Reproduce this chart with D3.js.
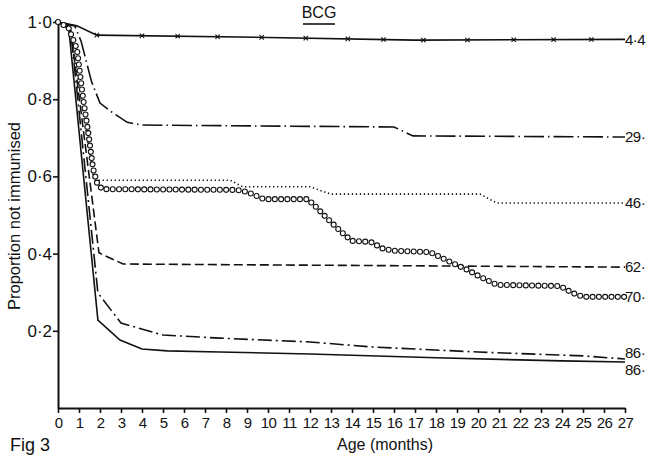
<!DOCTYPE html>
<html>
<head>
<meta charset="utf-8">
<script src="https://cdn.jsdelivr.net/npm/d3@7"></script>
<style>
  body { margin: 0; background: #fff; }
  svg text { font-family: "Liberation Sans", Arial, sans-serif; fill: #111; }
</style>
</head>
<body>
<div id="chart"></div>
<script>
// chart size
var svgWidth = 648;
var svgHeight = 457;

// months on the x axis
var months = d3.range(0, 28);
var yTicks = [0.2, 0.4, 0.6, 0.8, 1.0];

// each curve: [month, proportion not immunised]
var bcgCurve = [[0, 1], [0.9, 0.99], [1.85, 0.966], [10, 0.96], [17, 0.953], [27, 0.955]];
var bcgMarks = [1.85, 4, 5.7, 7.6, 9.7, 11.8, 13.8, 15.5, 17.4, 19.5, 21.7, 23.6, 25.4];
var curve29 = [[0, 1], [0.8, 0.99], [1.1, 0.95], [1.6, 0.845], [2.0, 0.79], [2.6, 0.765],
  [3.3, 0.74], [4, 0.733], [16, 0.728], [16.9, 0.705], [27, 0.702]];
var curve46 = [[0, 1], [0.6, 0.98], [1.7, 0.59], [8.2, 0.59], [8.8, 0.573], [12, 0.573],
  [13, 0.554], [20.1, 0.554], [20.9, 0.531], [27, 0.531]];
var curve70 = [[0, 1], [0.5, 0.985], [0.9, 0.93], [1.2, 0.8], [1.45, 0.71], [1.67, 0.62],
  [1.86, 0.583], [2.1, 0.567], [8.5, 0.565], [9, 0.56], [9.8, 0.541], [11.9, 0.541],
  [12.3, 0.52], [12.8, 0.492], [13.3, 0.466], [13.7, 0.446], [14.0, 0.433], [14.9, 0.43],
  [15.5, 0.412], [16.1, 0.407], [17.7, 0.404], [18.5, 0.383], [19, 0.37], [19.5, 0.358],
  [20.1, 0.34], [20.9, 0.319], [23.9, 0.316], [24.5, 0.298], [25, 0.288], [27, 0.288]];
var curve62 = [[0, 1], [0.6, 0.98], [1.95, 0.402], [3.1, 0.373], [27, 0.365]];
var curve86a = [[0, 1], [0.6, 0.98], [1.9, 0.298], [3.0, 0.22], [5, 0.189], [7.7, 0.181],
  [12, 0.171], [15, 0.158], [20, 0.145], [25, 0.135], [27, 0.127]];
var curve86b = [[0, 1], [0.5, 0.99], [1.9, 0.228], [2.95, 0.176], [4, 0.153], [5.2, 0.148],
  [7.7, 0.145], [12, 0.14], [18, 0.13], [24, 0.122], [27, 0.119]];

// end labels
var endLabels = ["4·4", "29·", "46·", "62·", "70·", "86·", "86·"];
var endLabelY = [0.955, 0.702, 0.531, 0.365, 0.288, 0.143, 0.098];

var svg = d3.select("#chart").append("svg")
  .attr("width", svgWidth)
  .attr("height", svgHeight);

var x = d3.scaleLinear().domain([0, 27]).range([58, 625]);
var y = d3.scaleLinear().domain([0, 1]).range([408, 22]);

var line = d3.line().x(d => x(d[0])).y(d => y(d[1]));

// axes
var xAxis = svg.append("g")
  .attr("transform", `translate(0, ${y(0)})`)
  .call(d3.axisBottom(x).tickValues(months).tickSize(5).tickSizeOuter(0).tickFormat(d3.format("d")));
var yAxis = svg.append("g")
  .attr("transform", `translate(${x(0)}, 0)`)
  .call(d3.axisLeft(y).tickValues(yTicks).tickSize(5).tickSizeOuter(0)
    .tickFormat(d => d3.format(".1f")(d).replace(".", "·")));

[xAxis, yAxis].forEach(a => {
  a.select(".domain").attr("stroke", "#111").attr("stroke-width", 2);
  a.selectAll(".tick line").attr("stroke", "#111").attr("stroke-width", 1.6);
});
xAxis.selectAll("text").attr("font-size", 15).attr("dy", "0.8em").attr("fill", "#111")
  .attr("letter-spacing", -0.6);
yAxis.selectAll("text").attr("font-size", 17).attr("fill", "#111").attr("x", -6);

// curves
function drawLine(data, dash) {
  return svg.append("path")
    .datum(data)
    .attr("d", line)
    .attr("fill", "none")
    .attr("stroke", "#111")
    .attr("stroke-width", 1.6)
    .attr("stroke-dasharray", dash);
}

drawLine(bcgCurve, null);
drawLine(curve29, "20,4,1.5,4");
drawLine(curve46, "1.3,2.7");
drawLine(curve62, "9,4");
drawLine(curve86a, "14,4,2,4");
drawLine(curve86b, null);

// BCG crosses
var bcgInterp = d3.scaleLinear().domain(bcgCurve.map(d => d[0])).range(bcgCurve.map(d => d[1]));
svg.selectAll(".cross")
  .data(bcgMarks)
  .enter()
  .append("path")
  .attr("class", "cross")
  .attr("transform", d => `translate(${x(d)}, ${y(bcgInterp(d))})`)
  .attr("d", d3.symbol().type(d3.symbolX).size(14))
  .attr("fill", "none")
  .attr("stroke", "#111")
  .attr("stroke-width", 1.1);

// open circles along the 70 curve
var guide = svg.append("path").datum(curve70).attr("d", line).attr("fill", "none").attr("stroke", "none");
var node = guide.node();
var total = node.getTotalLength();
var circlePts = d3.range(0, total, 6.3).map(l => node.getPointAtLength(l));
svg.selectAll(".ring")
  .data(circlePts)
  .enter()
  .append("circle")
  .attr("class", "ring")
  .attr("cx", d => d.x)
  .attr("cy", d => d.y)
  .attr("r", 2.5)
  .attr("fill", "#fff")
  .attr("stroke", "#111")
  .attr("stroke-width", 1.1);

// end labels
svg.selectAll(".endLabel")
  .data(endLabels)
  .enter()
  .append("text")
  .attr("class", "endLabel")
  .attr("x", 625)
  .attr("y", (d, i) => y(endLabelY[i]))
  .attr("dy", "0.35em")
  .attr("font-size", 15)
  .attr("letter-spacing", -0.5)
  .text(d => d);

// titles
svg.append("text").attr("x", 319).attr("y", 18).attr("text-anchor", "middle")
  .attr("font-size", 16).text("BCG");
svg.append("line").attr("x1", 303).attr("x2", 335).attr("y1", 24).attr("y2", 24)
  .attr("stroke", "#111").attr("stroke-width", 1.6);

svg.append("text").attr("x", 385).attr("y", 450).attr("text-anchor", "middle")
  .attr("font-size", 16).text("Age (months)");

svg.append("text")
  .attr("transform", "translate(20, 216) rotate(-90)")
  .attr("text-anchor", "middle")
  .attr("font-size", 16.5)
  .text("Proportion not immunised");

svg.append("text").attr("x", 10).attr("y", 451).attr("font-size", 18).text("Fig 3");
</script>
</body>
</html>
